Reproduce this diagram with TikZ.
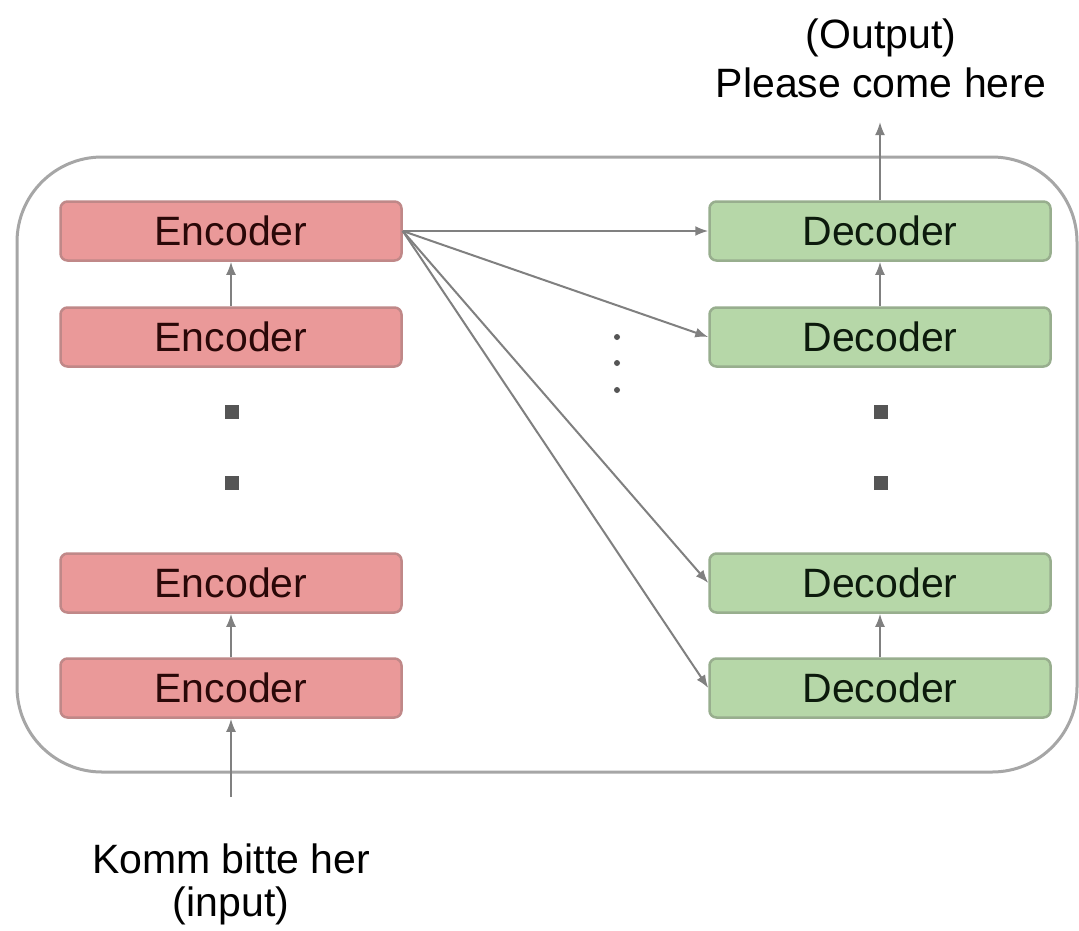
\documentclass[tikz,border=0pt]{standalone}
\usepackage{fontspec}
\setmainfont{Liberation Sans}
\usetikzlibrary{arrows.meta}
\definecolor{encfill}{HTML}{EA9999}
\definecolor{encdraw}{HTML}{C08888}
\definecolor{enctext}{HTML}{2A0808}
\definecolor{decfill}{HTML}{B6D7A8}
\definecolor{decdraw}{HTML}{98AE8E}
\definecolor{dectext}{HTML}{0C1A0C}
\definecolor{conncol}{HTML}{808080}
\definecolor{framecol}{HTML}{A6A6A6}
\definecolor{dotcol}{HTML}{555555}
\begin{document}
\begin{tikzpicture}[x=1pt,y=-1pt,
  box/.style={rounded corners=7pt, line width=2.5pt, minimum width=341pt, minimum height=59pt, inner sep=0pt, font=\fontsize{41}{48}\selectfont},
  enc/.style={box, draw=encdraw, fill=encfill, text=enctext},
  dec/.style={box, draw=decdraw, fill=decfill, text=dectext},
  conn/.style={draw=conncol, line width=2pt, -{Latex[length=13pt,width=10pt]}},
  bigdot/.style={fill=dotcol, minimum size=14pt, inner sep=0pt, draw=none},
  smalldot/.style={circle, fill=dotcol, minimum size=6pt, inner sep=0pt, draw=none},
  label/.style={align=center, inner sep=0pt}]
\useasboundingbox (0,0) rectangle (1079,930);
\fill[white] (0,0) rectangle (1079,930);
% outer frame
\draw[framecol, line width=3pt, rounded corners=85pt] (17,157) rectangle (1077,772);
% encoders
\node[enc] (e1) at (231,231) {Encoder};
\node[enc] (e2) at (231,337) {Encoder};
\node[enc] (e3) at (231,583) {Encoder};
\node[enc] (e4) at (231,688) {Encoder};
% decoders
\node[dec] (d1) at (880,231) {Decoder};
\node[dec] (d2) at (880,337) {Decoder};
\node[dec] (d3) at (880,583) {Decoder};
\node[dec] (d4) at (880,688) {Decoder};
% ellipsis squares
\node[bigdot] (ed1) at (232,412) {};
\node[bigdot] (ed2) at (232,483) {};
\node[bigdot] (dd1) at (881,412) {};
\node[bigdot] (dd2) at (881,483) {};
% small dots
\node[smalldot] (s1) at (617,337) {};
\node[smalldot] (s2) at (617,363) {};
\node[smalldot] (s3) at (617,390) {};
% labels
\node[label, font=\fontsize{41}{49}\selectfont] (out) at (881,58) {(Output)\\Please come here};
\node[label, font=\fontsize{41}{43}\selectfont] (in) at (231,884) {Komm bitte her\\(input)};
\coordinate (outend) at (880,122);
\coordinate (instart) at (231,797);
% connectors
\draw[conn] (e2.north) -- (e1.south);
\draw[conn] (e4.north) -- (e3.south);
\draw[conn] (d2.north) -- (d1.south);
\draw[conn] (d4.north) -- (d3.south);
\draw[conn] (instart) -- (e4.south);
\draw[conn] (d1.north) -- (outend);
\draw[conn] (e1.east) -- (d1.west);
\draw[conn] (e1.east) -- (d2.west);
\draw[conn] (e1.east) -- (d3.west);
\draw[conn] (e1.east) -- (d4.west);
\end{tikzpicture}
\end{document}
